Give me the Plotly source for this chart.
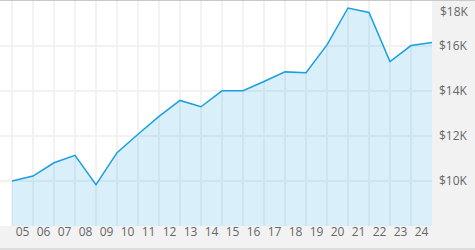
import plotly.graph_objects as go

# Data (year-start points, labels centered within each year)
years = list(range(2005, 2026))
values = [10000, 10220, 10810, 11140, 9840, 11260, 12080, 12870, 13580, 13300,
          14010, 14010, 14420, 14850, 14810, 16050, 17690, 17490, 15310, 16020, 16160]
label_years = list(range(2005, 2025))
x_labels = [f"{y % 100:02d}" for y in label_years]
y_ticks = [10000, 12000, 14000, 16000]
y_labels = ["$10K", "$12K", "$14K", "$16K"]
top_tick = 18000
top_label = "$18K"

LINE = "#1a9fe0"
FILL = "rgba(27,161,226,0.17)"
GRID = "#f2f2f2"
TXT = "#666666"
FONT = "Open Sans"

fig = go.Figure()
fig.add_trace(go.Scatter(
    x=years, y=values, mode="lines",
    line=dict(color=LINE, width=1.5),
    fill="tozeroy", fillcolor=FILL,
    hoverinfo="skip", showlegend=False,
))

fig.update_layout(
    width=475, height=250,
    margin=dict(l=0, r=43, t=1, b=24),
    paper_bgcolor="#f2f2f2",
    plot_bgcolor="#ffffff",
    font=dict(family=FONT, size=12, color=TXT),
    showlegend=False,
    xaxis=dict(
        range=[2005 - 12 / 21, 2025],
        tickmode="array",
        tickvals=[y + 0.5 for y in label_years],
        ticktext=x_labels,
        showgrid=False, zeroline=False, showline=False,
        ticks="", fixedrange=True,
        ticklabelstandoff=-3,
        tickfont=dict(family=FONT, size=12, color=TXT),
        minor=dict(tickmode="array", tickvals=years, showgrid=True,
                   gridcolor=GRID, gridwidth=2, ticks=""),
    ),
    yaxis=dict(
        range=[8000, 18000],
        side="right",
        tickmode="array",
        tickvals=y_ticks + [top_tick],
        ticktext=y_labels + [""],
        showgrid=True, gridcolor=GRID, gridwidth=2,
        zeroline=False, showline=False, ticks="",
        ticklabelstandoff=6,
        tickfont=dict(family=FONT, size=12, color=TXT),
    ),
    shapes=[
        dict(type="line", xref="paper", yref="paper", x0=0, x1=1.2,
             y0=1 + 0.5 / 225, y1=1 + 0.5 / 225,
             line=dict(color="#c8c8c8", width=1)),
        dict(type="line", xref="paper", yref="paper", x0=0, x1=1.2,
             y0=-(23 / 225), y1=-(23 / 225),
             line=dict(color="#c8c8c8", width=1)),
    ],
    annotations=[
        dict(x=1, xref="paper", xanchor="left", xshift=6,
             y=top_tick, yref="y", yanchor="top", yshift=0,
             text=top_label, showarrow=False,
             font=dict(family=FONT, size=12, color=TXT)),
    ],
)

fig.write_html("out.html")
